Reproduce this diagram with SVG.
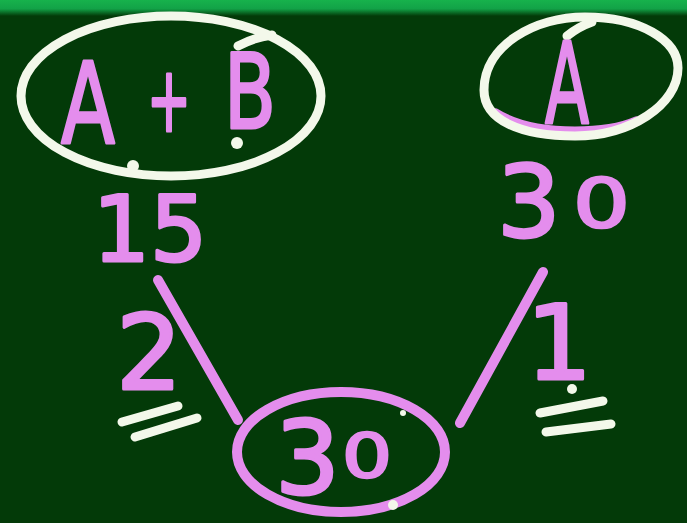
<svg xmlns="http://www.w3.org/2000/svg" width="687" height="523" viewBox="0 0 687 523">
  <defs>
    <linearGradient id="top" x1="0" y1="0" x2="0" y2="1">
      <stop offset="0" stop-color="#17b24c"/>
      <stop offset="0.55" stop-color="#12a247"/>
      <stop offset="1" stop-color="#033a08"/>
    </linearGradient>
  </defs>
  <style>
    .ink { fill: #e48ded; stroke: #e48ded; stroke-width: 3; stroke-linejoin: round; stroke-linecap: round; font-family: "DejaVu Sans", "Liberation Sans", sans-serif; }
    .thin { stroke-width: 2.5; }
    .chalk { fill: none; stroke: #f3f8ea; stroke-width: 9; stroke-linecap: round; }
    .pinkline { fill: none; stroke: #e48ded; stroke-width: 10; stroke-linecap: round; }
    .dot { fill: #f3f8ea; }
  </style>
  <rect width="687" height="523" fill="#033a08"/>
  <rect width="687" height="16" fill="url(#top)"/>

  <g id="node-ab">
    <ellipse cx="171" cy="96" rx="150" ry="80" class="chalk"/>
    <path d="M238,46 Q255,37 272,35" class="chalk"/>
    <text x="88" y="143" font-size="112" text-anchor="middle" class="ink" textLength="54" lengthAdjust="spacingAndGlyphs">A</text>
    <text x="169" y="131" font-size="90" text-anchor="middle" class="ink" textLength="44" lengthAdjust="spacingAndGlyphs">+</text>
    <text x="250" y="128" font-size="104" text-anchor="middle" class="ink" textLength="52" lengthAdjust="spacingAndGlyphs">B</text>
    <circle cx="133" cy="166" r="6" class="dot"/>
    <circle cx="237" cy="143" r="6" class="dot"/>
  </g>

  <g id="node-a">
    <path d="M496,112 C520,127 550,130 575,130 C600,130 620,127 636,120" fill="none" stroke="#e48ded" stroke-width="7" stroke-linecap="round"/>
    <path d="M484,90 C484,45 535,17 585,17 C640,17 678,40 678,68 C678,105 630,136 575,136 C520,136 484,120 484,90 Z" class="chalk"/>
    <path d="M567,36 Q578,27 592,22" class="chalk"/>
    <text x="567" y="123" font-size="112" text-anchor="middle" class="ink" textLength="44" lengthAdjust="spacingAndGlyphs">A</text>
  </g>

  <g id="node-30">
    <ellipse cx="341" cy="452" rx="104" ry="60" class="pinkline"/>
    <text y="494" font-size="102" class="ink"><tspan x="275">3</tspan><tspan x="342" y="477" font-size="60" textLength="50" lengthAdjust="spacingAndGlyphs" class="thin">0</tspan></text>
    <circle cx="393" cy="505" r="5" class="dot"/>
    <circle cx="403" cy="413" r="3" class="dot"/>
  </g>

  <g id="connectors">
    <line x1="158" y1="280" x2="238" y2="420" class="pinkline"/>
    <line x1="543" y1="272" x2="460" y2="423" class="pinkline"/>
  </g>

  <g id="labels">
    <text x="150" y="261" font-size="90" text-anchor="middle" class="ink">15</text>
    <text y="237" font-size="100" class="ink"><tspan x="497">3</tspan><tspan x="573" y="227" font-size="68" textLength="57" lengthAdjust="spacingAndGlyphs" class="thin">0</tspan></text>
    <text x="149" y="389" font-size="104" text-anchor="middle" class="ink">2</text>
    <text x="559" y="379" font-size="104" text-anchor="middle" class="ink">1</text>
    <circle cx="572" cy="389" r="5" class="dot"/>
    <path d="M122,422 L178,406" class="chalk"/>
    <path d="M135,437 L197,418" class="chalk"/>
    <path d="M540,413 L603,401" class="chalk"/>
    <path d="M546,432 L611,424" class="chalk"/>
  </g>
</svg>
